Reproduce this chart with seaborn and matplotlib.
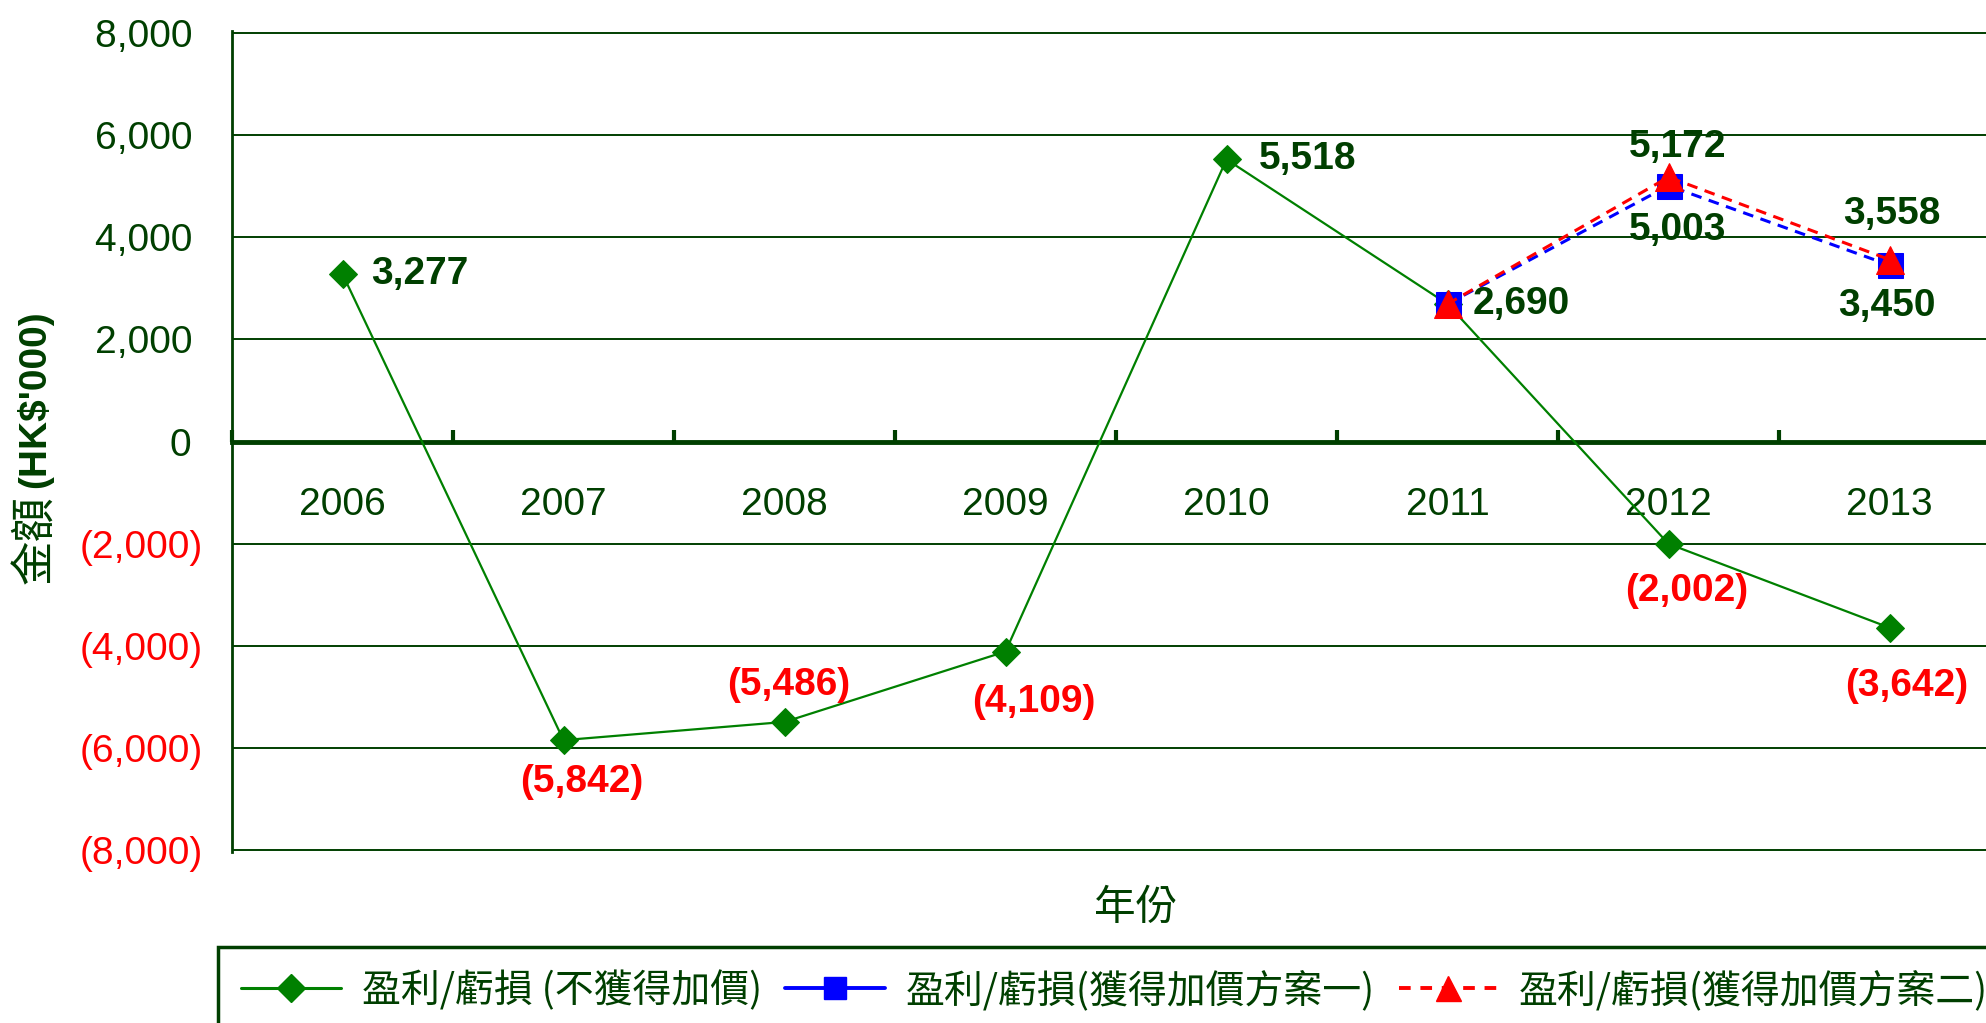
import matplotlib
matplotlib.use("Agg")
import matplotlib.pyplot as plt
import seaborn as sns
import pandas as pd
import numpy as np
from matplotlib.lines import Line2D

# ---------------- data ----------------
years = ["2006", "2007", "2008", "2009", "2010", "2011", "2012", "2013"]
profit_no_increase = [3277, -5842, -5486, -4109, 5518, 2690, -2002, -3642]
scheme_years = ["2011", "2012", "2013"]
profit_scheme1 = [2690, 5003, 3450]
profit_scheme2 = [2690, 5172, 3558]
y_ticks = [-8000, -6000, -4000, -2000, 0, 2000, 4000, 6000, 8000]
series_names = ["盈利/虧損 (不獲得加價)", "盈利/虧損(獲得加價方案一)", "盈利/虧損(獲得加價方案二)"]
x_title = "年份"
y_title_cjk = "金額"
y_title_unit = "(HK$'000)"

# label placement styles (dx, dy in pixels, ha) per point
lab_no_inc = [(29, 0, "left"), (18, -42, "center"), (4, 37, "center"), (28, -50, "center"),
              (32, 0, "left"), (None, None, None), (18, -47, "center"), (17, -58, "center")]
lab_s1 = [(25, 0, "left"), (9, -44, "center"), (-3, -41, "center")]
lab_s2 = [(None, None, None), (9, 30, "center"), (2, 46, "center")]

DARK = "#003f00"
GREEN = "#008000"
BLUE = "#0000ff"
RED = "#ff0000"

sns.set_theme(style="white")
plt.rcParams["font.family"] = ["Liberation Sans", "Noto Sans CJK TC", "DejaVu Sans"]

W, H = 1986, 1023
fig = plt.figure(figsize=(W / 100, H / 100), dpi=100)
ax = fig.add_axes([232 / W, 1 - 852 / H, (2000 - 232) / W, (852 - 31) / H])

df0 = pd.DataFrame({"pos": range(len(years)), "val": profit_no_increase})
pos_s = [years.index(y) for y in scheme_years]
df1 = pd.DataFrame({"pos": pos_s, "val": profit_scheme1})
df2 = pd.DataFrame({"pos": pos_s, "val": profit_scheme2})

sns.lineplot(data=df0, x="pos", y="val", ax=ax, color=GREEN, lw=1.6, marker="D", ms=14,
             markeredgecolor=GREEN, errorbar=None, sort=False, zorder=3)
sns.lineplot(data=df1, x="pos", y="val", ax=ax, color=BLUE, lw=2.2, linestyle=(0, (3.5, 2.5)), marker="s",
             ms=18, markeredgecolor=BLUE, errorbar=None, sort=False, zorder=4)
sns.lineplot(data=df2, x="pos", y="val", ax=ax, color=RED, lw=2.2, linestyle=(0, (3.5, 2.5)), marker="^",
             ms=20, markeredgecolor=RED, errorbar=None, sort=False, zorder=5)


def fmt(v):
    return f"{v:,}" if v >= 0 else f"({-v:,})"


def annotate(df, specs):
    for (p, v), (dx, dy, ha) in zip(zip(df["pos"], df["val"]), specs):
        if dx is None:
            continue
        ax.annotate(fmt(v), (p, v), xytext=(dx, dy), textcoords="offset pixels",
                    ha=ha, va="center", fontsize=28, fontweight="bold",
                    color=DARK if v >= 0 else RED, zorder=6)


annotate(df0, lab_no_inc)
annotate(df1, lab_s1)
annotate(df2, lab_s2)

ax.set_xlim(-0.5, 7.5)
ax.set_ylim(-8030, 8030)

# y axis
ax.set_yticks(y_ticks)
ax.set_yticklabels([fmt(v) + ("\u2008" if v >= 0 else "") for v in y_ticks])
for lbl, v in zip(ax.get_yticklabels(), y_ticks):
    lbl.set_color(DARK if v >= 0 else RED)
ax.tick_params(axis="y", length=0, pad=21, labelsize=28)
ax.grid(axis="y", color=DARK, lw=1.4)
ax.grid(axis="x", visible=False)

# x axis on zero line
ax.set_xticks(range(len(years)))
ax.set_xticklabels(years)
ax.set_xticks(np.arange(-0.5, len(years), 1), minor=True)
ax.tick_params(axis="x", which="major", bottom=True, length=0, pad=33, labelsize=28, labelcolor=DARK)
ax.tick_params(axis="x", which="minor", bottom=True, direction="in", length=9, width=3, color=DARK)

for s in ["top", "right"]:
    ax.spines[s].set_visible(False)
ax.spines["left"].set_color(DARK)
ax.spines["left"].set_linewidth(2)
ax.spines["bottom"].set_position(("data", 0))
ax.spines["bottom"].set_color(DARK)
ax.spines["bottom"].set_linewidth(3.5)

ax.set_ylabel("")
ax.set_xlabel(x_title, fontsize=30, color=DARK, family=["Noto Sans CJK TC"])
ax.xaxis.set_label_coords((1136 - 232) / 1768, -0.044)

fig.text(35 / W, 1 - 399 / H, y_title_unit, rotation=90, ha="center", va="center",
         fontsize=28, fontweight="bold", color=DARK)
fig.text(35 / W, 1 - 540 / H, y_title_cjk, rotation=90, ha="center", va="center",
         fontsize=32, color=DARK, family=["Noto Sans CJK TC"])

handles = [
    Line2D([], [], color=GREEN, lw=2.2, marker="D", ms=14, markeredgecolor=GREEN),
    Line2D([], [], color=BLUE, lw=2.8, marker="s", ms=16, markeredgecolor=BLUE),
    Line2D([], [], color=RED, lw=2.8, linestyle=(0, (3, 2.5)), marker="^", ms=18, markeredgecolor=RED),
]
leg = fig.legend(handles, series_names, loc="upper left", bbox_to_anchor=(218 / W, 1 - 947 / H),
                 ncol=3, frameon=True, fancybox=False, edgecolor=DARK, framealpha=1,
                 prop={"family": ["Noto Sans CJK TC"], "size": 28}, labelcolor=DARK,
                 handlelength=2.55, handletextpad=0.55, columnspacing=0.6, borderpad=0.6,
                 borderaxespad=0)
leg.get_frame().set_linewidth(2.5)

fig.savefig("out.png", dpi=100)
